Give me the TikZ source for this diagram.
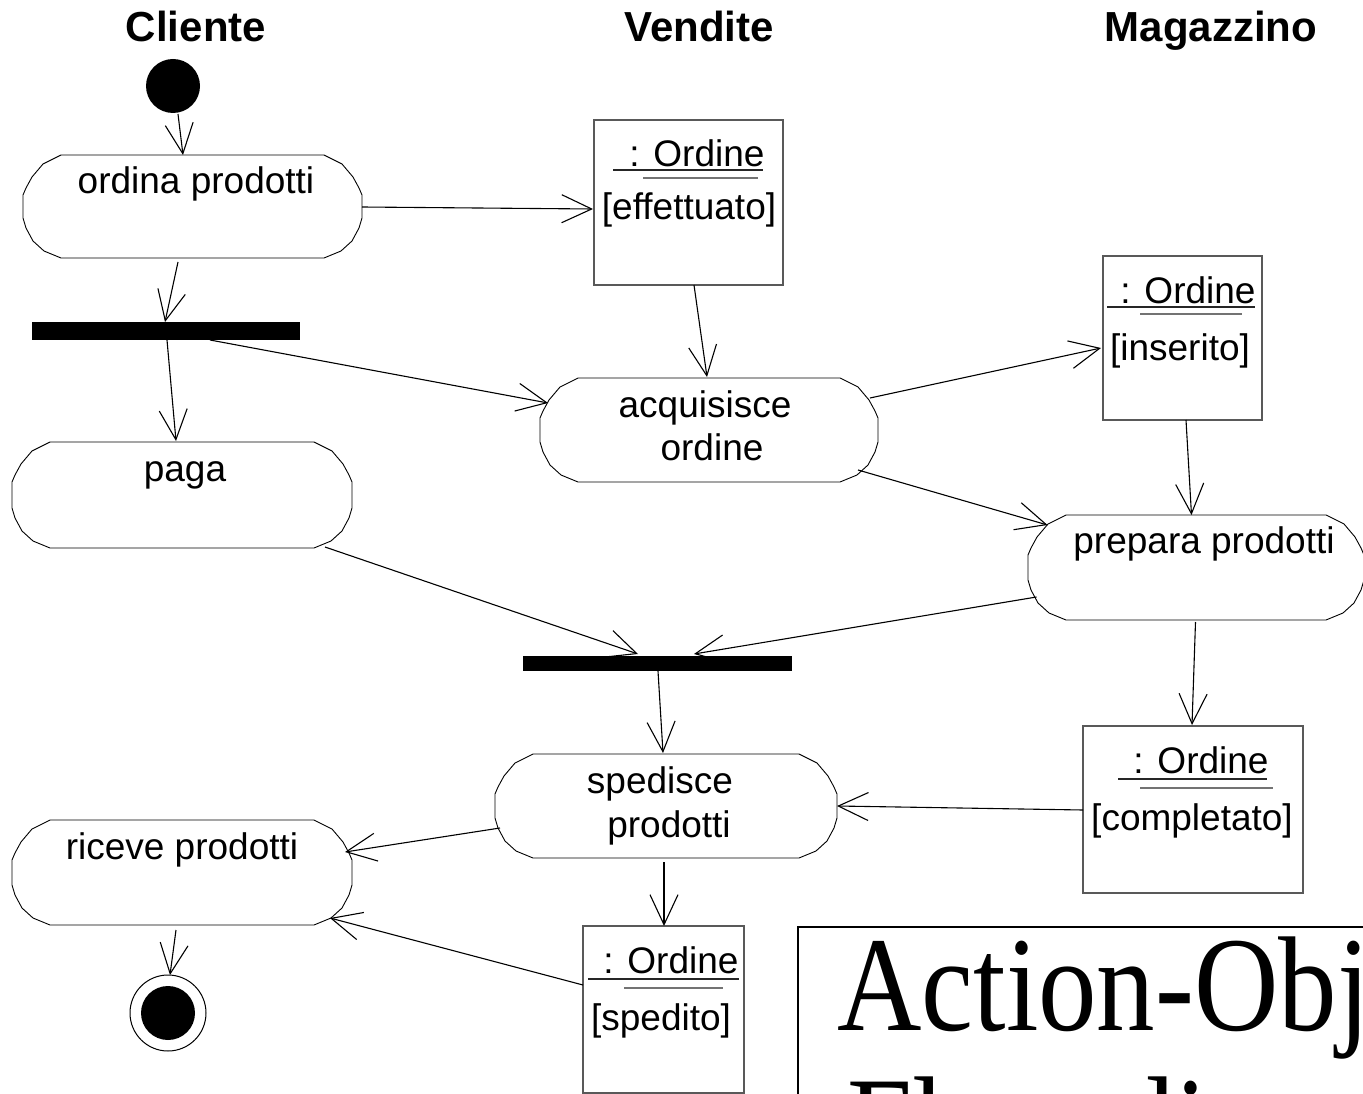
\documentclass[tikz,border=0pt]{standalone}
\usepackage{graphicx}
\usepackage{fontspec}
\setmainfont{Liberation Sans}
\newfontfamily\notefont{Liberation Serif}
\usetikzlibrary{arrows.meta}

% action state: invisible rectangle node plus a faceted capsule outline
\newcommand\actshape[5]{%
  \node[inner sep=0pt, minimum width={#4-#2}, minimum height={#5-#3}] (#1) at ({(#2+#4)/2},{(#3+#5)/2}) {};
  \draw[actline] (#2+38,#3) -- (#4-38,#3) -- (#4-20,#3+9) -- (#4-9,#3+22) -- (#4-3,#3+33) -- (#4,#3+40)
    -- (#4,#5-40) -- (#4-3,#5-30) -- (#4-10,#5-17) -- (#4-21,#5-7) -- (#4-38,#5)
    -- (#2+38,#5) -- (#2+21,#5-7) -- (#2+10,#5-17) -- (#2+3,#5-30) -- (#2,#5-40)
    -- (#2,#3+40) -- (#2+3,#3+33) -- (#2+9,#3+22) -- (#2+20,#3+9) -- cycle;
}

\begin{document}
\begin{tikzpicture}[x=1pt,y=-1pt,
  flow/.style={line width=1.1pt, -{Straight Barb[length=30pt,width=28pt,line width=1.1pt]}},
  actline/.style={line width=0.9pt, draw=black},
  objbox/.style={draw=black!65, line width=1.4pt, inner sep=0pt},
  bar/.style={fill=black, draw=none, inner sep=0pt},
  lbl/.style={anchor=base, inner sep=0pt, font=\fontsize{37}{44}\selectfont},
  head/.style={anchor=base, inner sep=0pt, font=\fontsize{42}{50}\selectfont\bfseries},
  uline/.style={line width=1.2pt, draw=black!85},
  uline2/.style={line width=1.2pt, draw=black!55},
  notetext/.style={anchor=base west, inner sep=0pt, font=\notefont\fontsize{135}{140}\selectfont},
]
\useasboundingbox (0,0) rectangle (1363,1094);
\clip (0,0) rectangle (1363,1094);
\fill[white] (0,0) rectangle (1363,1094);

% swimlane headings
\node[head] (hcli) at (196,42) {Cliente};
\node[head] (hven) at (699,42) {Vendite};
\node[head] (hmag) at (1211,42) {Magazzino};

% start / end
\node[circle, fill=black, inner sep=0pt, minimum size=54] (init) at (173,86) {};
\node[circle, draw=black, line width=1pt, inner sep=0pt, minimum size=76] (final) at (168,1013) {};
\node[circle, fill=black, inner sep=0pt, minimum size=54] (finaldot) at (final.center) {};

% actions
\actshape{ordina}{23}{155}{362}{258}
\actshape{paga}{12}{442}{352}{548}
\actshape{riceve}{12}{820}{352}{925}
\actshape{acq}{540}{378}{878}{482}
\actshape{prep}{1028}{515}{1364}{620}
\actshape{sped}{495}{754}{837}{858}

\node[lbl] (ordina-t) at (196,194) {ordina prodotti};
\node[lbl] (paga-t) at (185,481) {paga};
\node[lbl] (riceve-t) at (182,859) {riceve prodotti};
\node[lbl] (acq-t1) at (705,417) {acquisisce};
\node[lbl] (acq-t2) at (712,460) {ordine};
\node[lbl] (prep-t) at (1204,553) {prepara prodotti};
\node[lbl] (sped-t1) at (660,793) {spedisce};
\node[lbl] (sped-t2) at (669,837) {prodotti};

% synchronisation bars
\node[bar, minimum width=268, minimum height=18] (fork) at (166,331) {};
\node[bar, minimum width=269, minimum height=15] (join) at (657.5,663.5) {};

% object flows
\node[objbox, minimum width=189, minimum height=165] (oeff) at (688.5,202.5) {};
\node[lbl] (oeff-n) at (697,167) {: Ordine};
\draw[uline] (613,170) -- (763,170);
\draw[uline2] (643,178) -- (758,178);
\node[lbl] (oeff-s) at (689,220) {[effettuato]};

\node[objbox, minimum width=159, minimum height=164] (oins) at (1182.5,338) {};
\node[lbl] (oins-n) at (1188,303) {: Ordine};
\draw[uline] (1107,307) -- (1255,307);
\draw[uline2] (1140,314) -- (1242,314);
\node[lbl] (oins-s) at (1180,360) {[inserito]};

\node[objbox, minimum width=220, minimum height=167] (ocom) at (1193,809.5) {};
\node[lbl] (ocom-n) at (1201,773) {: Ordine};
\draw[uline] (1118,779) -- (1267,779);
\draw[uline2] (1140,788) -- (1273,788);
\node[lbl] (ocom-s) at (1192,830) {[completato]};

\node[objbox, minimum width=161, minimum height=167] (ospe) at (663.5,1009.5) {};
\node[lbl] (ospe-n) at (671,973) {: Ordine};
\draw[uline] (588,979) -- (739,979);
\draw[uline2] (624,988) -- (723,988);
\node[lbl] (ospe-s) at (661,1030) {[spedito]};

% transitions
\draw[flow] ([shift={(5,28)}]init.center) -- ([shift={(-9.5,-51.5)}]ordina.center);
\draw[flow] ([shift={(169.5,0.5)}]ordina.center) -- ([shift={(-95.5,6.5)}]oeff.center);
\draw[flow] ([shift={(-14.5,55.5)}]ordina.center) -- ([shift={(-1,-9)}]fork.center);
\draw[flow] ([shift={(5.5,82.5)}]oeff.center) -- ([shift={(-2,-53)}]acq.center);
\draw[flow] ([shift={(1,9)}]fork.center) -- ([shift={(-6,-54)}]paga.center);
\draw[flow] ([shift={(44,9)}]fork.center) -- ([shift={(-161,-27)}]acq.center);
\draw[flow] ([shift={(161,-32)}]acq.center) -- ([shift={(-81.5,10)}]oins.center);
\draw[flow] ([shift={(3.5,82)}]oins.center) -- ([shift={(-4.5,-52.5)}]prep.center);
\draw[flow] ([shift={(149,40)}]acq.center) -- ([shift={(-148.5,-42.5)}]prep.center);
\draw[flow] ([shift={(143,52)}]paga.center) -- ([shift={(-19.5,-9.5)}]join.center);
\draw[flow] ([shift={(-159.5,29.5)}]prep.center) -- ([shift={(36.5,-9.5)}]join.center);
\draw[flow] ([shift={(0.5,7.5)}]join.center) -- ([shift={(-3,-53)}]sped.center);
\draw[flow] ([shift={(-0.5,54.5)}]prep.center) -- ([shift={(-1,-84.5)}]ocom.center);
\draw[flow] ([shift={(-110,0.5)}]ocom.center) -- ([shift={(171,0)}]sped.center);
\draw[flow] ([shift={(-166,22)}]sped.center) -- ([shift={(163,-20.5)}]riceve.center);
\draw[flow] ([shift={(-2,56)}]sped.center) -- ([shift={(0.5,-83.5)}]ospe.center);
\draw[flow] ([shift={(-80.5,-24.5)}]ospe.center) -- ([shift={(148,45.5)}]riceve.center);
\draw[flow] ([shift={(-6,57.5)}]riceve.center) -- ([shift={(2,-38)}]final.center);

% title note
\node[draw=black, line width=2pt, inner sep=0pt, anchor=north west, minimum width=700, minimum height=300] (note) at (797,926) {};
\node[notetext] (note-t1) at (837,1030) {\scalebox{0.866}[1]{Action-Object}};
\node[notetext] (note-t2) at (847,1170) {\scalebox{0.866}[1]{Flow diagram}};
\end{tikzpicture}
\end{document}
